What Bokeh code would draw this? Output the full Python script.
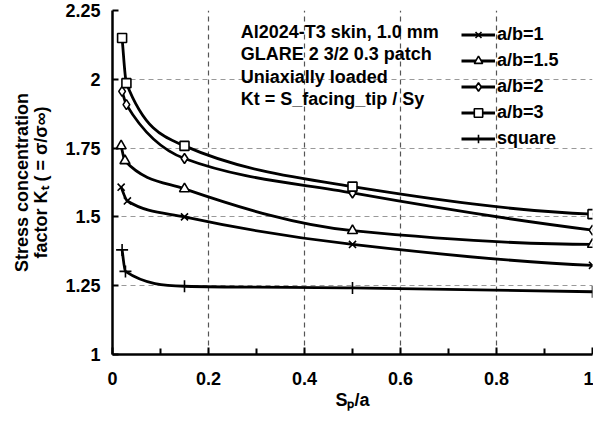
import numpy as np
from bokeh.plotting import figure
from bokeh.models import FixedTicker, Legend, LegendItem, Label, Range1d
from bokeh.embed import file_html
from bokeh.resources import INLINE

# ---- data ----
x_ab1 = [0.018, 0.031, 0.15, 0.5, 1.0]
kt_ab1 = [1.608, 1.558, 1.500, 1.400, 1.324]
x_ab15 = [0.018, 0.026, 0.15, 0.5, 1.0]
kt_ab15 = [1.758, 1.704, 1.602, 1.450, 1.400]
x_ab2 = [0.020, 0.029, 0.15, 0.5, 1.0]
kt_ab2 = [1.956, 1.908, 1.712, 1.587, 1.452]
x_ab3 = [0.020, 0.029, 0.15, 0.5, 1.0]
kt_ab3 = [2.150, 1.986, 1.758, 1.610, 1.510]
x_sq = [0.020, 0.027, 0.15, 0.5, 1.0]
kt_sq = [1.380, 1.302, 1.248, 1.242, 1.228]

series_labels = ["a/b=1", "a/b=1.5", "a/b=2", "a/b=3", "square"]
x_ticks = [0, 0.2, 0.4, 0.6, 0.8, 1.0]
x_tick_labels = ["0", "0.2", "0.4", "0.6", "0.8", "1"]
x_minor_ticks = [0.1, 0.3, 0.5, 0.7, 0.9]
y_ticks = [1, 1.25, 1.5, 1.75, 2, 2.25]
y_tick_labels = ["1", "1.25", "1.5", "1.75", "2", "2.25"]
note_lines = ["Al2024-T3 skin, 1.0 mm", "GLARE 2 3/2 0.3 patch",
              "Uniaxially loaded", "Kt = S_facing_tip / Sy"]

FONT = "Liberation Sans"

p = figure(width=593, height=421, output_backend="svg", toolbar_location=None,
           x_range=Range1d(0, 1), y_range=Range1d(1, 2.25),
           min_border_left=112, min_border_right=1, min_border_top=10,
           min_border_bottom=67)
p.outline_line_color = None
p.background_fill_color = "white"
p.border_fill_color = "white"

# axes
p.xaxis.ticker = FixedTicker(ticks=x_ticks, minor_ticks=x_minor_ticks)
p.yaxis.ticker = FixedTicker(ticks=y_ticks, minor_ticks=[])
p.xaxis.major_label_overrides = {t: s for t, s in zip(x_ticks, x_tick_labels)}
p.yaxis.major_label_overrides = {t: s for t, s in zip(y_ticks, y_tick_labels)}
for ax in (p.xaxis[0], p.yaxis[0]):
    ax.axis_line_width = 2.5
    ax.axis_line_color = "black"
    ax.major_tick_line_width = 2
    ax.major_tick_line_color = "black"
    ax.minor_tick_line_width = 2
    ax.minor_tick_line_color = "black"
    ax.major_tick_out = 0
    ax.minor_tick_out = 0
    ax.major_label_text_font = FONT
    ax.major_label_text_font_style = "bold"
    ax.major_label_text_font_size = "18px"
    ax.major_label_text_color = "black"
    ax.axis_label_text_font = FONT
    ax.axis_label_text_font_style = "bold"
    ax.axis_label_text_font_size = "18px"
    ax.axis_label_text_color = "black"
p.xaxis.major_tick_in = 7
p.xaxis.minor_tick_in = 6
p.yaxis.major_tick_in = 6
p.yaxis.minor_tick_in = 0
p.xaxis.major_label_standoff = 17
p.yaxis.major_label_standoff = 12
p.xaxis.axis_label = "S\u209a/a"
p.xaxis.axis_label_standoff = 2
p.yaxis.axis_label = "Stress concentration\nfactor K\u209c ( = \u03c3/\u03c3\u221e)"
p.yaxis.axis_label_standoff = 11
p.yaxis.axis_label_text_line_height = 0.95

p.xgrid.ticker = FixedTicker(ticks=x_ticks)
p.ygrid.ticker = FixedTicker(ticks=y_ticks)
p.xgrid.grid_line_color = "#555555"
p.xgrid.grid_line_dash = "5 4"
p.xgrid.grid_line_width = 1.2
p.ygrid.grid_line_color = "#999999"
p.ygrid.grid_line_dash = "5 4"
p.ygrid.grid_line_width = 1.2


def pchip_slopes(x, y):
    x = np.asarray(x, float)
    y = np.asarray(y, float)
    h = np.diff(x)
    d = np.diff(y) / h
    n = len(x)
    m = np.zeros(n)
    for k in range(1, n - 1):
        if d[k - 1] * d[k] <= 0:
            m[k] = 0.0
        else:
            w1 = 2 * h[k] + h[k - 1]
            w2 = h[k] + 2 * h[k - 1]
            m[k] = (w1 + w2) / (w1 / d[k - 1] + w2 / d[k])

    def edge(h0, h1, d0, d1):
        mm = ((2 * h0 + h1) * d0 - h0 * d1) / (h0 + h1)
        if np.sign(mm) != np.sign(d0):
            mm = 0.0
        elif np.sign(d0) != np.sign(d1) and abs(mm) > 3 * abs(d0):
            mm = 3 * d0
        return mm

    m[0] = edge(h[0], h[1], d[0], d[1])
    m[-1] = edge(h[-1], h[-2], d[-1], d[-2])
    return m


def smooth_curve(x, y):
    x = np.asarray(x, float)
    y = np.asarray(y, float)
    m = pchip_slopes(x, y)
    h = np.diff(x)
    return p.bezier(x0=x[:-1], y0=y[:-1], x1=x[1:], y1=y[1:],
                    cx0=x[:-1] + h / 3, cy0=y[:-1] + m[:-1] * h / 3,
                    cx1=x[1:] - h / 3, cy1=y[1:] - m[1:] * h / 3,
                    line_color="black", line_width=2.8)


series = [(x_ab1, kt_ab1, "x"), (x_ab15, kt_ab15, "triangle"),
          (x_ab2, kt_ab2, "diamond"), (x_ab3, kt_ab3, "square"),
          (x_sq, kt_sq, "cross")]
sizes = {"x": 10, "triangle": 10, "diamond": 10, "square": 9, "cross": 12}

items = []
for (xs, ys, mk), lab in zip(series, series_labels):
    cr = smooth_curve(xs, ys)
    sr = p.scatter(xs, ys, marker=mk, size=sizes[mk], fill_color="white",
                   line_color="black", line_width=1.6)
    items.append(LegendItem(label=lab, renderers=[cr, sr]))

legend = Legend(items=items, location=(349, 205),
                label_text_font=FONT, label_text_font_style="bold",
                label_text_font_size="18px", label_text_color="black",
                glyph_width=34, glyph_height=21, label_height=21,
                label_standoff=2, spacing=5, padding=0, margin=0,
                border_line_color=None, background_fill_alpha=0)
p.add_layout(legend)

note_y = [2.172, 2.091, 2.010, 1.929]
for txt, yy in zip(note_lines, note_y):
    p.add_layout(Label(x=0.267, y=yy, text=txt, text_font=FONT,
                       text_font_style="bold", text_font_size="18px",
                       text_baseline="middle", text_color="black"))

open("out.html", "w").write(file_html(p, INLINE))
